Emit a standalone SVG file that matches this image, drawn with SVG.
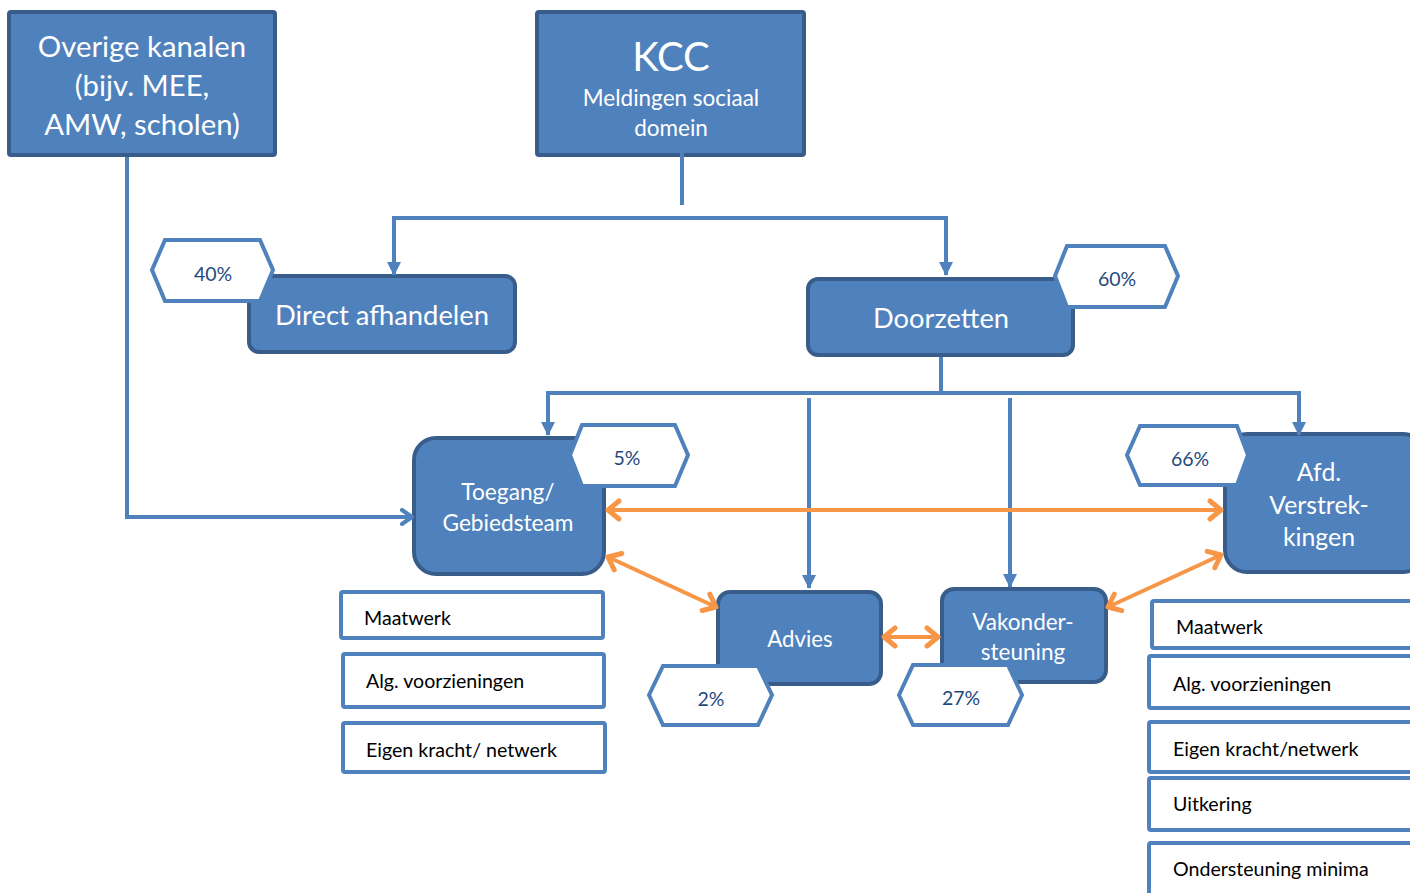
<svg xmlns="http://www.w3.org/2000/svg" width="1410" height="893" viewBox="0 0 1410 893">
<style>
.box{fill:#4f81bd;stroke:#385d8a;stroke-width:4}
.hex{fill:#fff;stroke:#4f81bd;stroke-width:4}
.lst{fill:#fff;stroke:#4f81bd;stroke-width:4}
.wt{fill:#fff;font-family:Lato,"Open Sans",sans-serif;text-anchor:middle;dominant-baseline:central}
.pt{fill:#1f497d;font-family:Lato,"Open Sans",sans-serif;font-size:19.5px;text-anchor:middle;dominant-baseline:central}
.lt{fill:#000;font-family:Lato,"Open Sans",sans-serif;font-size:19.6px;dominant-baseline:central}
.bl{fill:none;stroke:#4f81bd;stroke-width:4}
.or{fill:none;stroke:#f79646;stroke-width:4}
</style>
<defs>
<marker id="ab" markerUnits="userSpaceOnUse" markerWidth="16" markerHeight="16" refX="13" refY="7" orient="auto"><path d="M0,0 L14,7 L0,14 z" fill="#4f81bd"/></marker>
<marker id="ac" markerUnits="userSpaceOnUse" markerWidth="16" markerHeight="20" refX="12" refY="9" orient="auto"><path d="M2,2 L12,9 L2,16" fill="none" stroke="#4f81bd" stroke-width="4" stroke-linecap="round" stroke-linejoin="round"/></marker>
<marker id="ao" markerUnits="userSpaceOnUse" markerWidth="18" markerHeight="24" refX="14" refY="12" orient="auto-start-reverse"><path d="M3,3 L14,12 L3,21" fill="none" stroke="#f79646" stroke-width="5" stroke-linecap="round" stroke-linejoin="round"/></marker>
</defs>

<g id="overige">
<rect class="box" x="9" y="12" width="266" height="143" rx="2"/>
<text class="wt" font-size="29.3" x="142" y="45">Overige kanalen</text>
<text class="wt" font-size="29.3" x="142" y="84">(bijv. MEE,</text>
<text class="wt" font-size="29.3" x="142" y="123">AMW, scholen)</text>
</g>

<g id="kcc">
<rect class="box" x="537" y="12" width="267" height="143" rx="2"/>
<text class="wt" font-size="40" x="671" y="56">KCC</text>
<text class="wt" font-size="22.5" x="671" y="97">Meldingen sociaal</text>
<text class="wt" font-size="22.5" x="671" y="127">domein</text>
</g>

<g id="direct">
<rect class="box" x="249" y="276" width="266" height="76" rx="10"/>
<text class="wt" font-size="27.4" x="382" y="314">Direct afhandelen</text>
</g>
<g id="p40">
<polygon class="hex" points="152,270 165,240 260,240 273,270 260,301 165,301"/>
<text class="pt" x="213" y="273">40%</text>
</g>

<g id="doorzetten">
<rect class="box" x="808" y="279" width="265" height="76" rx="10"/>
<text class="wt" font-size="27.3" x="941" y="317">Doorzetten</text>
</g>
<g id="p60">
<polygon class="hex" points="1055,276 1067,246 1165,246 1178,276 1165,307 1067,307"/>
<text class="pt" x="1117" y="278">60%</text>
</g>

<g id="toegang">
<rect class="box" x="414" y="438" width="190" height="136" rx="22"/>
<text class="wt" font-size="22.7" x="508" y="491">Toegang/</text>
<text class="wt" font-size="22.7" x="508" y="522">Gebiedsteam</text>
</g>
<g id="p5">
<polygon class="hex" points="570,455 582,425 675,425 688,455 675,486 582,486"/>
<text class="pt" x="627" y="457">5%</text>
</g>

<g id="afd">
<rect class="box" x="1225" y="434" width="200" height="138" rx="22"/>
<text class="wt" font-size="24.8" x="1319" y="471">Afd.</text>
<text class="wt" font-size="24.8" x="1319" y="504">Verstrek-</text>
<text class="wt" font-size="24.8" x="1319" y="536">kingen</text>
</g>
<g id="p66">
<polygon class="hex" points="1127,455 1140,426 1237,426 1248,455 1237,485 1140,485"/>
<text class="pt" x="1190" y="458">66%</text>
</g>

<g id="advies">
<rect class="box" x="718" y="592" width="163" height="92" rx="12"/>
<text class="wt" font-size="22.2" x="800" y="638">Advies</text>
</g>
<g id="p2">
<polygon class="hex" points="649,695 663,666 758,666 772,695 758,725 663,725"/>
<text class="pt" x="711" y="698">2%</text>
</g>

<g id="vakondersteuning">
<rect class="box" x="942" y="589" width="164" height="93" rx="12"/>
<text class="wt" font-size="22.5" x="1023" y="621">Vakonder-</text>
<text class="wt" font-size="22.5" x="1023" y="651">steuning</text>
</g>
<g id="p27">
<polygon class="hex" points="899,695 913,665 1008,665 1022,695 1008,725 913,725"/>
<text class="pt" x="961" y="697">27%</text>
</g>

<g id="l-maatwerk">
<rect class="lst" x="341" y="592" width="262" height="46" rx="2"/>
<text class="lt" x="364" y="617">Maatwerk</text>
</g>
<g id="l-alg">
<rect class="lst" x="343" y="654" width="261" height="53" rx="2"/>
<text class="lt" x="366" y="680">Alg. voorzieningen</text>
</g>
<g id="l-eigen">
<rect class="lst" x="343" y="723" width="262" height="49" rx="2"/>
<text class="lt" x="366" y="749">Eigen kracht/ netwerk</text>
</g>

<g id="r-maatwerk">
<rect class="lst" x="1152" y="601" width="270" height="47" rx="2"/>
<text class="lt" x="1176" y="626">Maatwerk</text>
</g>
<g id="r-alg">
<rect class="lst" x="1149" y="656" width="270" height="52" rx="2"/>
<text class="lt" x="1173" y="683">Alg. voorzieningen</text>
</g>
<g id="r-eigen">
<rect class="lst" x="1149" y="722" width="270" height="50" rx="2"/>
<text class="lt" x="1173" y="748">Eigen kracht/netwerk</text>
</g>
<g id="r-uitkering">
<rect class="lst" x="1149" y="778" width="270" height="52" rx="2"/>
<text class="lt" x="1173" y="803">Uitkering</text>
</g>
<g id="r-minima">
<rect class="lst" x="1149" y="843" width="270" height="60" rx="2"/>
<text class="lt" x="1173" y="868">Ondersteuning minima</text>
</g>

<g id="connectors">
<path class="bl" d="M682,138 V205"/>
<path class="bl" d="M682,218 H394 V275" marker-end="url(#ab)"/>
<path class="bl" d="M682,218 H946 V275" marker-end="url(#ab)"/>
<path class="bl" d="M941,357 V393"/>
<path class="bl" d="M941,393 H548 V435" marker-end="url(#ab)"/>
<path class="bl" d="M941,393 H1299 V435" marker-end="url(#ab)"/>
<path class="bl" d="M809,398 V588" marker-end="url(#ab)"/>
<path class="bl" d="M1010,398 V587" marker-end="url(#ab)"/>
<path class="bl" d="M127,157 V517 H412" marker-end="url(#ac)"/>
<path class="or" d="M608,510 H1221" marker-start="url(#ao)" marker-end="url(#ao)"/>
<path class="or" d="M608,557 L716,607" marker-start="url(#ao)" marker-end="url(#ao)"/>
<path class="or" d="M1221,555 L1108,607" marker-start="url(#ao)" marker-end="url(#ao)"/>
<path class="or" d="M884,637 H938" marker-start="url(#ao)" marker-end="url(#ao)"/>
</g>
</svg>
